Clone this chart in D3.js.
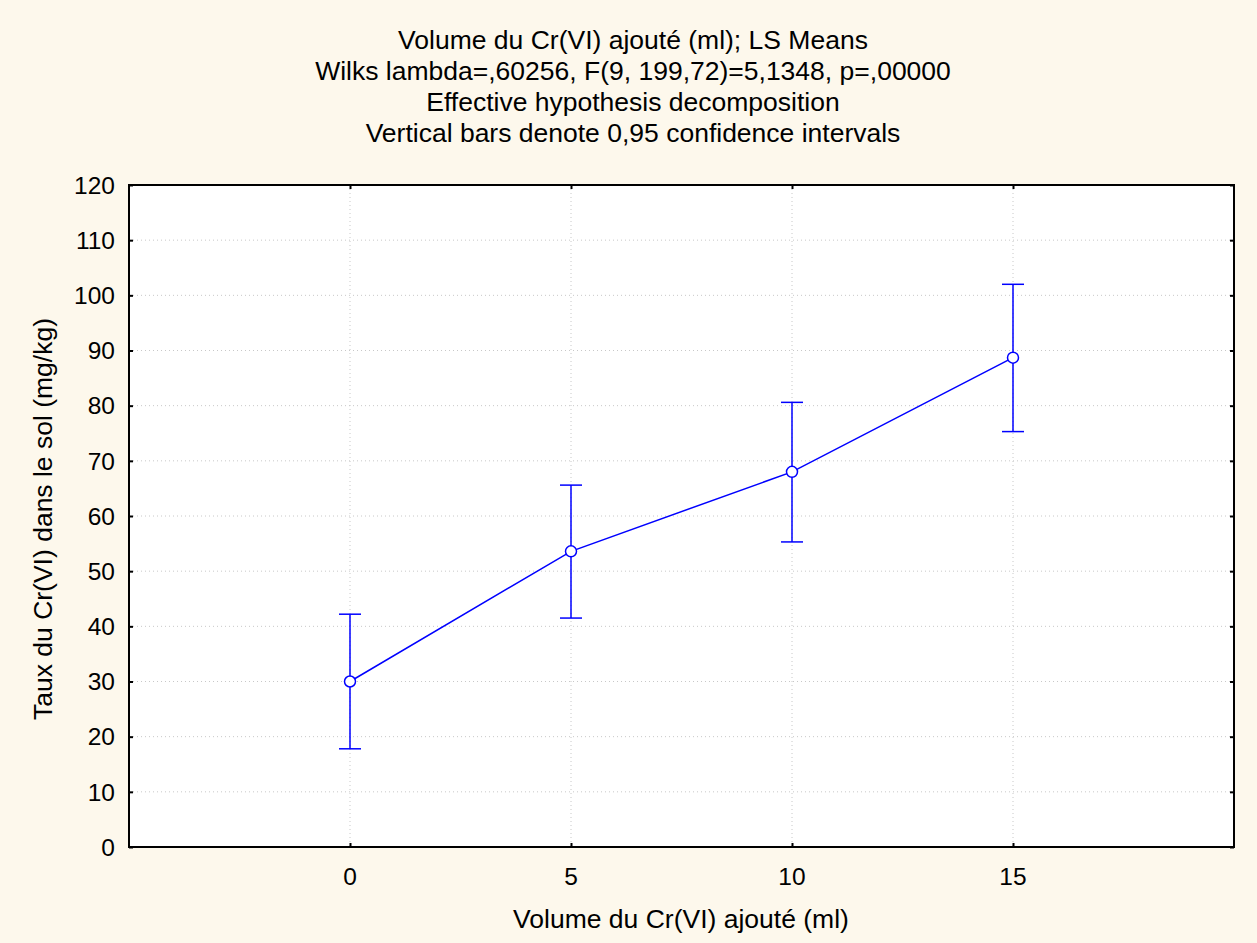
<!DOCTYPE html>
<html><head><meta charset="utf-8">
<script src="https://cdn.jsdelivr.net/npm/d3@7"></script>
<style>body{margin:0;background:#fdf8ec;} svg{display:block;}</style>
</head><body>
<script>
const categories = [0, 5, 10, 15];
const means = [30.0, 53.6, 68.0, 88.7];
const ciLow = [17.8, 41.5, 55.3, 75.3];
const ciHigh = [42.2, 65.6, 80.6, 102.0];
const yTicks = [0,10,20,30,40,50,60,70,80,90,100,110,120];
const titleLines = [
  "Volume du Cr(VI) ajouté (ml); LS Means",
  "Wilks lambda=,60256, F(9, 199,72)=5,1348, p=,00000",
  "Effective hypothesis decomposition",
  "Vertical bars denote 0,95 confidence intervals"
];
const xLabel = "Volume du Cr(VI) ajouté (ml)";
const yLabel = "Taux du Cr(VI) dans le sol (mg/kg)";

const W = 1257, H = 943;
const L = 129, R = 1234, T = 185, B = 847;
const font = "'Liberation Sans', Arial, sans-serif";
const blue = "#0000ff";
const tickFs = 24.5, titleFs = 26.5, labelFs = 26.5;

const svg = d3.select("body").append("svg").attr("width", W).attr("height", H);
svg.append("rect").attr("width", W).attr("height", H).attr("fill", "#fdf8ec");

const x = d3.scaleLinear().domain([-5, 20]).range([L, R]);
const y = d3.scaleLinear().domain([0, 120]).range([B, T]);

svg.append("rect").attr("x", L).attr("y", T).attr("width", R - L).attr("height", B - T).attr("fill", "#fff");

// gridlines
const g = svg.append("g");
g.selectAll(".hg").data(yTicks.slice(1, -1)).join("line")
  .attr("x1", L).attr("x2", R).attr("y1", d => y(d)).attr("y2", d => y(d))
  .attr("stroke", "#c8c8c8").attr("stroke-width", 1).attr("stroke-dasharray", "1,3");
g.selectAll(".vg").data(categories).join("line")
  .attr("y1", T).attr("y2", B).attr("x1", d => x(d)).attr("x2", d => x(d))
  .attr("stroke", "#c8c8c8").attr("stroke-width", 1).attr("stroke-dasharray", "1,3");

// axes with inward ticks
const tk = 4;
const axL = svg.append("g").attr("transform", `translate(${L},0)`)
  .call(d3.axisRight(y).tickValues(yTicks).tickSize(tk).tickFormat(""));
const axR = svg.append("g").attr("transform", `translate(${R},0)`)
  .call(d3.axisLeft(y).tickValues(yTicks).tickSize(tk).tickFormat(""));
const axB = svg.append("g").attr("transform", `translate(0,${B})`)
  .call(d3.axisTop(x).tickValues(categories).tickSize(tk).tickFormat(""));
const axT = svg.append("g").attr("transform", `translate(0,${T})`)
  .call(d3.axisBottom(x).tickValues(categories).tickSize(tk).tickFormat(""));
[axL, axR, axB, axT].forEach(a => {
  a.select(".domain").remove();
  a.selectAll(".tick line").attr("stroke", "#000").attr("stroke-width", 2);
});
svg.append("rect").attr("x", L).attr("y", T).attr("width", R - L).attr("height", B - T)
  .attr("fill", "none").attr("stroke", "#000").attr("stroke-width", 2);

// tick labels
svg.append("g").selectAll("text").data(yTicks).join("text")
  .attr("x", L - 14).attr("y", d => y(d)).attr("dy", "0.36em")
  .attr("text-anchor", "end").attr("font-family", font).attr("font-size", tickFs).attr("fill", "#000")
  .text(d => d);
svg.append("g").selectAll("text").data(categories).join("text")
  .attr("x", d => x(d)).attr("y", 885)
  .attr("text-anchor", "middle").attr("font-family", font).attr("font-size", tickFs).attr("fill", "#000")
  .text(d => d);

// titles
svg.append("g").selectAll("text").data(titleLines).join("text")
  .attr("x", 633).attr("y", (d, i) => 49 + i * 31)
  .attr("text-anchor", "middle").attr("font-family", font).attr("font-size", titleFs).attr("fill", "#000")
  .text(d => d);
svg.append("text").attr("x", 681).attr("y", 928).attr("text-anchor", "middle")
  .attr("font-family", font).attr("font-size", labelFs).text(xLabel);
svg.append("text").attr("transform", `translate(52,519) rotate(-90)`).attr("text-anchor", "middle")
  .attr("font-family", font).attr("font-size", labelFs).text(yLabel);

// data
const data = categories.map((c, i) => ({c, m: means[i], lo: ciLow[i], hi: ciHigh[i]}));
const cap = 11;
const eb = svg.append("g").attr("stroke", blue).attr("stroke-width", 1.5);
eb.selectAll(".v").data(data).join("line")
  .attr("x1", d => x(d.c)).attr("x2", d => x(d.c)).attr("y1", d => y(d.lo)).attr("y2", d => y(d.hi));
eb.selectAll(".ct").data(data).join("line")
  .attr("x1", d => x(d.c) - cap).attr("x2", d => x(d.c) + cap).attr("y1", d => y(d.hi)).attr("y2", d => y(d.hi));
eb.selectAll(".cb").data(data).join("line")
  .attr("x1", d => x(d.c) - cap).attr("x2", d => x(d.c) + cap).attr("y1", d => y(d.lo)).attr("y2", d => y(d.lo));

svg.append("path").datum(data)
  .attr("d", d3.line().x(d => x(d.c)).y(d => y(d.m)))
  .attr("fill", "none").attr("stroke", blue).attr("stroke-width", 1.5);
svg.append("g").selectAll("circle").data(data).join("circle")
  .attr("cx", d => x(d.c)).attr("cy", d => y(d.m)).attr("r", 5.5)
  .attr("fill", "#fff").attr("stroke", blue).attr("stroke-width", 1.5);
</script>
</body></html>
